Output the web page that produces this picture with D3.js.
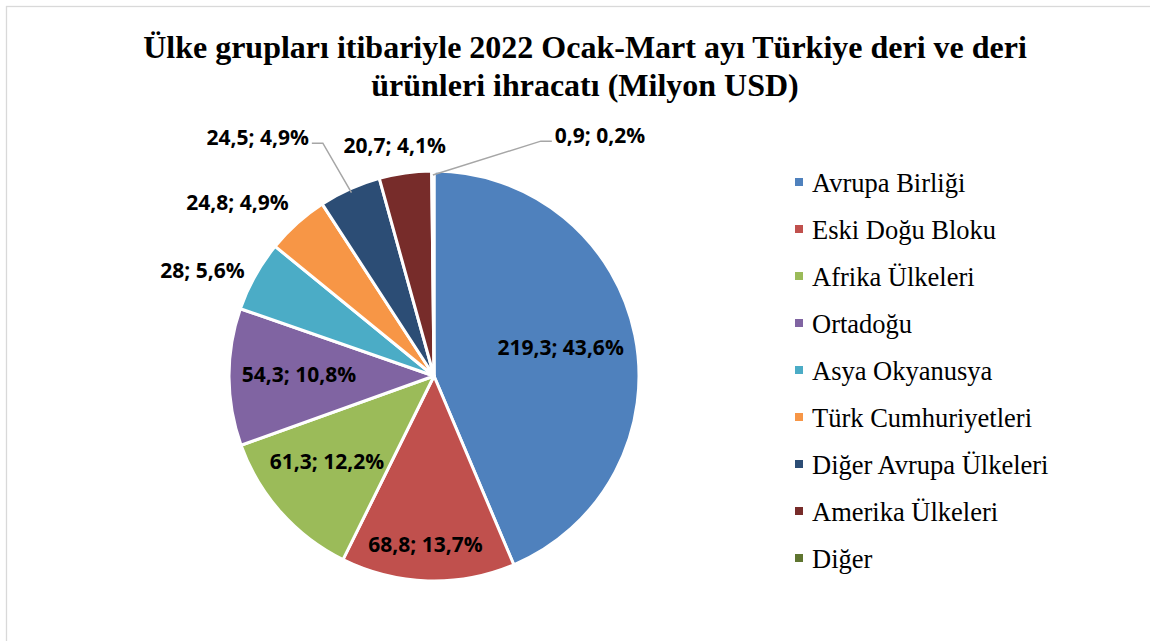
<!DOCTYPE html>
<html>
<head>
<meta charset="utf-8">
<script src="https://cdn.jsdelivr.net/npm/d3@7"></script>
<style>
  body { margin: 0; background: #fff; }
  svg { display: block; }
</style>
</head>
<body>
<div id="chart"></div>
<script>
/* Pie chart: 2022 Ocak-Mart deri ihracati */

const width = 1150,
    height = 641;

// data
const categories = ["Avrupa Birliği", "Eski Doğu Bloku", "Afrika Ülkeleri", "Ortadoğu",
    "Asya Okyanusya", "Türk Cumhuriyetleri", "Diğer Avrupa Ülkeleri", "Amerika Ülkeleri", "Diğer"];
const values = [219.3, 68.8, 61.3, 54.3, 28, 24.8, 24.5, 20.7, 0.9];
const percents = [43.6, 13.7, 12.2, 10.8, 5.6, 4.9, 4.9, 4.1, 0.2];
const colors = ["#4f81bd", "#c0504d", "#9bbb59", "#8064a2", "#4bacc6",
    "#f79646", "#2c4d75", "#772c2a", "#5f7530"];

// label placement (radius factor, angle shift in degrees from slice middle)
const labelRadius = [0.633, 0.823, 0.667, 0.659, 1.241, 1.279, 1.448, 1.143, 1.427];
const labelShift = [-1.2, 1.2, 3.2, 1.1, -4.7, -6.65, -12.2, -1.6, 34.9];
const leaders = [6, 8];                                      // labels with a leader line

const cx = 434, cy = 376, r = 205;

const svg = d3.select("#chart")
    .append("svg")
    .attr("width", width)
    .attr("height", height);

svg.append("rect")                                          // chart area border
    .attr("x", 6.5).attr("y", 6.5)
    .attr("width", width + 20).attr("height", height + 20)
    .attr("fill", "#fff")
    .attr("stroke", "#d9d9d9")
    .attr("stroke-width", 1.3);

// title
const title = svg.append("text")
    .attr("text-anchor", "middle")
    .attr("font-family", "'Liberation Serif', 'Times New Roman', serif")
    .attr("font-weight", "bold")
    .attr("font-size", 32)
    .attr("fill", "#000");
title.append("tspan").attr("x", 585).attr("y", 58)
    .text("Ülke grupları itibariyle 2022 Ocak-Mart ayı Türkiye deri ve deri");
title.append("tspan").attr("x", 585).attr("y", 96)
    .text("ürünleri ihracatı (Milyon USD)");

const data = categories.map((c, i) => ({ name: c, value: values[i], pct: percents[i], color: colors[i] }));

const pie = d3.pie()
    .value(d => d.value)
    .sort(null);

const arcs = pie(data);

const arc = d3.arc()
    .innerRadius(0)
    .outerRadius(r);

const g = svg.append("g")
    .attr("transform", `translate(${cx},${cy})`);

g.selectAll("path.slice")
    .data(arcs)
    .join("path")
    .attr("class", "slice")
    .attr("d", arc)
    .attr("fill", d => d.data.color)
    .attr("stroke", "#fff")
    .attr("stroke-width", 3)
    .attr("stroke-linejoin", "round");

const fmt = v => String(v).replace(".", ",");
const rad = Math.PI / 180;

const labelPos = arcs.map((d, i) => {
    const mid = (d.startAngle + d.endAngle) / 2 + labelShift[i] * rad;
    return d3.pointRadial(mid, labelRadius[i] * r);
});

const labels = g.selectAll("text.lbl")
    .data(arcs)
    .join("text")
    .attr("class", "lbl")
    .attr("x", (d, i) => labelPos[i][0])
    .attr("y", (d, i) => labelPos[i][1])
    .attr("dy", "0.36em")
    .attr("text-anchor", "middle")
    .attr("font-family", "'Open Sans', sans-serif")
    .attr("font-weight", "bold")
    .attr("font-size", 21)
    .attr("fill", "#000")
    .text(d => `${fmt(d.data.value)}; ${fmt(d.data.pct.toFixed(1))}%`);

// leader lines
labels.each(function(d, i) {
    if (!leaders.includes(i)) return;
    const w = this.getComputedTextLength();
    const mid = (d.startAngle + d.endAngle) / 2;
    const p0 = d3.pointRadial(mid, r - 4);
    const [lx, ly] = labelPos[i];
    const side = p0[0] < lx ? -1 : 1;                        // slice left or right of label
    const xEdge = lx + side * (w / 2 + 3);
    const pts = [p0, [xEdge + side * 11, ly + 6], [xEdge, ly + 6]];
    g.append("path")
        .attr("d", d3.line()(pts))
        .attr("fill", "none")
        .attr("stroke", "#a6a6a6")
        .attr("stroke-width", 1.5);
});

// legend
const legend = svg.append("g")
    .attr("transform", "translate(795,192)");

const item = legend.selectAll("g")
    .data(data)
    .join("g")
    .attr("transform", (d, i) => `translate(0,${i * 47})`);

item.append("rect")
    .attr("x", 0).attr("y", -14)
    .attr("width", 8).attr("height", 8)
    .attr("fill", d => d.color);

item.append("text")
    .attr("x", 17)
    .attr("font-family", "'Liberation Serif', 'Times New Roman', serif")
    .attr("font-size", 26.5)
    .attr("fill", "#000")
    .text(d => d.name);
</script>
</body>
</html>
